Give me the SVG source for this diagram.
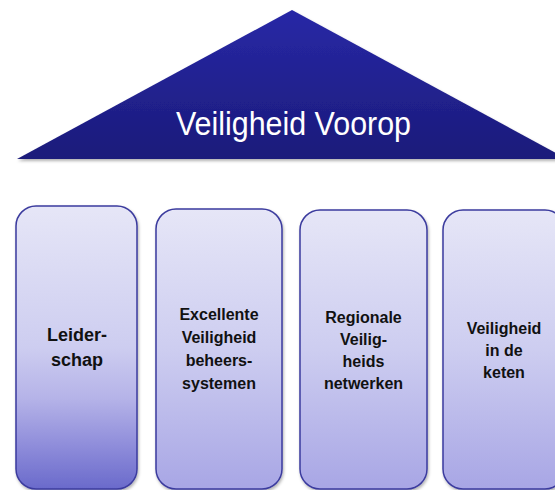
<svg xmlns="http://www.w3.org/2000/svg" width="555" height="490" viewBox="0 0 555 490">
  <defs>
    <linearGradient id="roofGrad" x1="0" y1="0" x2="0" y2="1">
      <stop offset="0" stop-color="#2828a6"/>
      <stop offset="1" stop-color="#1b1b7a"/>
    </linearGradient>
    <linearGradient id="pillarGrad" x1="0" y1="0" x2="0" y2="1">
      <stop offset="0" stop-color="#e6e6f7"/>
      <stop offset="0.5" stop-color="#cdcdf0"/>
      <stop offset="1" stop-color="#a8a6e5"/>
    </linearGradient>
    <linearGradient id="pillarGradDark" x1="0" y1="0" x2="0" y2="1">
      <stop offset="0" stop-color="#e6e6f7"/>
      <stop offset="0.5" stop-color="#cdcdf0"/>
      <stop offset="0.68" stop-color="#b5b3e8"/>
      <stop offset="0.85" stop-color="#8e8cda"/>
      <stop offset="1" stop-color="#6a6acb"/>
    </linearGradient>
    <filter id="shadow" x="-10%" y="-10%" width="120%" height="120%">
      <feDropShadow dx="1" dy="2" stdDeviation="1.5" flood-color="#000" flood-opacity="0.3"/>
    </filter>
    <style>
      .pillar { stroke: #3b3b9e; stroke-width: 1.5; filter: url(#shadow); }
      .ptext { font-family: "Liberation Sans", Arial, sans-serif; font-weight: bold; font-size: 16px; fill: #111; text-anchor: middle; }
      .roof-text { font-family: "Liberation Sans", Arial, sans-serif; font-size: 34px; fill: #ffffff; text-anchor: middle; }
    </style>
  </defs>

  <g id="roof">
    <polygon points="292,10 17,159 567,159" fill="url(#roofGrad)" filter="url(#shadow)"/>
    <text class="roof-text" x="293.5" y="135" textLength="235" lengthAdjust="spacingAndGlyphs">Veiligheid Voorop</text>
  </g>

  <g id="leiderschap">
    <rect class="pillar" x="16" y="206" width="121" height="283" rx="20" ry="20" fill="url(#pillarGradDark)"/>
    <text class="ptext" style="font-size:18px" x="77" y="341">Leider-</text>
    <text class="ptext" style="font-size:18px" x="77" y="366">schap</text>
  </g>

  <g id="excellente">
    <rect class="pillar" x="156" y="209" width="126" height="280" rx="20" ry="20" fill="url(#pillarGrad)"/>
    <text class="ptext" x="219" y="320">Excellente</text>
    <text class="ptext" x="219" y="343">Veiligheid</text>
    <text class="ptext" x="219" y="366">beheers-</text>
    <text class="ptext" x="219" y="389">systemen</text>
  </g>

  <g id="regionale">
    <rect class="pillar" x="300" y="210" width="127" height="279" rx="20" ry="20" fill="url(#pillarGrad)"/>
    <text class="ptext" x="363.5" y="323">Regionale</text>
    <text class="ptext" x="363.5" y="345">Veilig-</text>
    <text class="ptext" x="363.5" y="367">heids</text>
    <text class="ptext" x="363.5" y="389">netwerken</text>
  </g>

  <g id="keten">
    <rect class="pillar" x="443" y="210" width="122" height="279" rx="20" ry="20" fill="url(#pillarGrad)"/>
    <text class="ptext" x="504" y="334">Veiligheid</text>
    <text class="ptext" x="504" y="356">in de</text>
    <text class="ptext" x="504" y="378">keten</text>
  </g>

  <g id="connectors"></g>
</svg>
